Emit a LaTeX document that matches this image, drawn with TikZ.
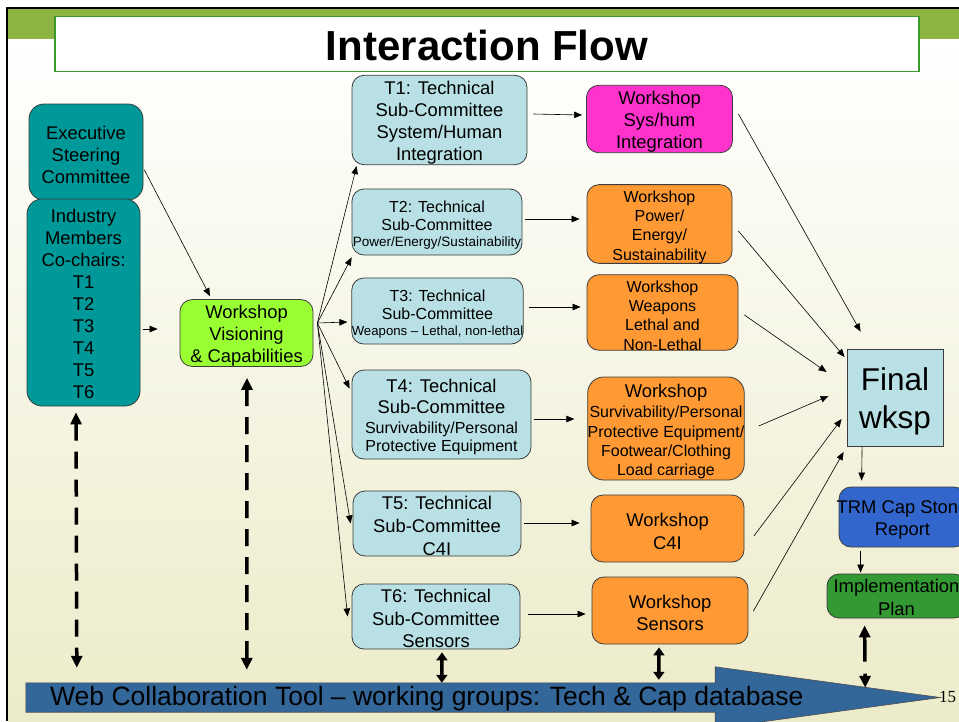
\documentclass[tikz,border=0pt]{standalone}
\usepackage{fontspec}
\setmainfont{Liberation Sans}
\newfontfamily\numfont{Liberation Serif}
\usetikzlibrary{arrows.meta,calc}
\definecolor{teal1}{HTML}{009999}
\definecolor{lblue}{HTML}{B9E0E4}
\definecolor{magw}{HTML}{FF33CC}
\definecolor{orw}{HTML}{FF9933}
\definecolor{limew}{HTML}{99FF33}
\definecolor{trmblue}{HTML}{3366CC}
\definecolor{implgreen}{HTML}{339933}
\definecolor{webblue}{HTML}{336699}
\definecolor{bandlight}{HTML}{8DB443}
\definecolor{banddark}{HTML}{2F6B10}
\definecolor{creammid}{HTML}{F6F5E2}
\definecolor{cream}{HTML}{ECEBC9}
\definecolor{titlegreen}{HTML}{3A9A2A}
\definecolor{edge}{HTML}{3C3C3C}
\newcommand{\fsz}[2]{\fontsize{#1}{#2}\selectfont}
\newcommand{\tp}[1]{\rule{0pt}{#1}}
\tikzset{
  nbox/.style={draw=edge, line width=0.8pt, rounded corners=12pt, align=center, inner sep=0pt, font=\fsz{18.4}{22}},
  thinarrow/.style={-{Triangle[length=8pt,width=6.5pt]}, line width=0.6pt, black},
  thickdash/.style={{Triangle[length=12pt,width=11pt]}-{Triangle[length=12pt,width=11pt]}, line width=3.5pt, dash pattern=on 17pt off 11pt},
  thicksolid/.style={{Triangle[length=8pt,width=11pt]}-{Triangle[length=8pt,width=11pt]}, line width=3.5pt}
}
\begin{document}
\begin{tikzpicture}[x=1pt,y=-1pt]
\clip (0,0) rectangle (959,721);
\useasboundingbox (0,0) rectangle (959,721);
% background
\fill[white] (0,0) rectangle (959,721);
\shade[top color=white, middle color=creammid, bottom color=cream] (8,38) rectangle (959,721);
\shade[left color=bandlight, middle color=banddark, right color=bandlight] (8,9) rectangle (959,38);
\draw[line width=2.5pt] (7,721) -- (7,8) -- (959,8);
% title
\node[draw=titlegreen, line width=1.3pt, fill=white, minimum width=864pt, minimum height=55pt, inner sep=0pt, font=\bfseries\fsz{42}{48}] (title) at (487,44) {\tp{33pt}Interaction Flow};

% left column
\node[nbox, fill=teal1, rounded corners=15pt, minimum width=114pt, minimum height=96pt] (exec) at (86,152) {\tp{18.5pt}Executive\\Steering\\Committee};
\node[nbox, fill=teal1, rounded corners=15pt, minimum width=113pt, minimum height=207pt] (ind) at (83.5,302.5) {\tp{17pt}Industry\\Members\\Co-chairs:\\T1\\T2\\T3\\T4\\T5\\T6};
\node[nbox, fill=limew, minimum width=133pt, minimum height=66pt] (vis) at (246.5,333) {\tp{19pt}Workshop\\Visioning\\\& Capabilities};

% technical sub-committees
\node[nbox, fill=lblue, minimum width=175pt, minimum height=88pt] (t1) at (439.5,120) {\tp{19.5pt}T1: Technical\\Sub-Committee\\System/Human\\Integration};
\node[nbox, fill=lblue, font=\fsz{16}{18}, minimum width=170pt, minimum height=66pt] (t2) at (437,222) {\tp{17.5pt}T2: Technical\\Sub-Committee\\[-2pt]{\fsz{13.5}{16}Power/Energy/Sustainability}};
\node[nbox, fill=lblue, font=\fsz{16}{18}, minimum width=171pt, minimum height=66pt] (t3) at (437.5,311) {\tp{17.5pt}T3: Technical\\Sub-Committee\\[-2pt]{\fsz{13.2}{16}Weapons – Lethal, non-lethal}};
\node[nbox, fill=lblue, font=\fsz{18.4}{21.5}, minimum width=179pt, minimum height=89pt] (t4) at (441.5,414.5) {\tp{18.5pt}T4: Technical\\Sub-Committee\\[-2pt]{\fsz{16}{19}Survivability/Personal}\\[-3pt]{\fsz{16}{19}Protective Equipment}};
\node[nbox, fill=lblue, font=\fsz{18.4}{23}, minimum width=168pt, minimum height=65pt] (t5) at (437,523.5) {\tp{17.5pt}T5: Technical\\Sub-Committee\\C4I};
\node[nbox, fill=lblue, font=\fsz{18.4}{22.5}, minimum width=168pt, minimum height=65pt] (t6) at (436,616.5) {\tp{17.5pt}T6: Technical\\Sub-Committee\\Sensors};

% workshops
\node[nbox, fill=magw, minimum width=146pt, minimum height=62pt] (w1) at (659.5,119) {\tp{19.5pt}Workshop\\Sys/hum\\Integration};
\node[nbox, fill=orw, font=\fsz{16}{19.3}, minimum width=145pt, minimum height=76pt] (w2) at (659.5,224) {\tp{17.5pt}Workshop\\Power/\\Energy/\\Sustainability};
\node[nbox, fill=orw, font=\fsz{16}{19.3}, minimum width=151pt, minimum height=67pt] (w3) at (662.5,312.5) {\tp{17.5pt}Workshop\\Weapons\\Lethal and\\Non-Lethal};
\node[nbox, fill=orw, rounded corners=16pt, font=\fsz{16}{19.3}, minimum width=156pt, minimum height=103pt] (w4) at (666,428.5) {{\fsz{18.4}{22}\tp{20pt}Workshop}\\[0.7pt]Survivability/Personal\\Protective Equipment/\\Footwear/Clothing\\Load carriage};
\node[nbox, fill=orw, font=\fsz{18.4}{23}, minimum width=153pt, minimum height=67pt] (w5) at (667.5,528.5) {\tp{18.5pt}Workshop\\C4I};
\node[nbox, fill=orw, font=\fsz{18.4}{21.5}, minimum width=156pt, minimum height=67pt] (w6) at (670,610.5) {\tp{18.5pt}Workshop\\Sensors};

% right column
\node[nbox, fill=lblue, rounded corners=0pt, font=\fsz{31.5}{38}, minimum width=96pt, minimum height=97pt] (fin) at (895,397.5) {\tp{30pt}Final\\wksp};
\node[nbox, fill=trmblue, minimum width=127pt, minimum height=60pt] (trm) at (902.5,517) {\tp{18.5pt}\makebox[0pt]{TRM Cap Stone}\\Report};
\node[nbox, fill=implgreen, font=\fsz{18.4}{23}, minimum width=139pt, minimum height=44pt] (impl) at (896.5,596) {\tp{16pt}Implementation\\Plan};

% web collaboration arrow
\node[anchor=base west, inner sep=0pt, font=\numfont\fsz{17}{20}] (pnum) at (939,702) {15};
\node[minimum width=689pt, minimum height=29pt, inner sep=0pt] (web) at (370.5,697.5) {};
\draw[fill=webblue, draw=black!70, line width=0.6pt] (web.north west) -- (web.north east) -- ++(0,-16) -- ($(web.east)+(225,0)$) -- ($(web.south east)+(0,16)$) -- (web.south east) -- (web.south west) -- cycle;
\node[anchor=base west, inner sep=0pt, font=\fsz{26.5}{30}] (webtxt) at (50,705) {Web Collaboration Tool – working groups: Tech \& Cap database};

% thin arrows
\draw[thinarrow] ($(exec.east)+(1,18)$) -- ($(vis.north)+(-36.5,-3)$);
\draw[thinarrow] ($(ind.east)+(3,26.5)$) -- ($(vis.west)+(-22,-4)$);
\coordinate (vo) at ($(vis.east)+(4,-10)$);
\draw[thinarrow] (vo) -- ($(t1.south west)+(5,1)$);
\draw[thinarrow] (vo) -- ($(t2.south west)+(0,2)$);
\draw[thinarrow] (vo) -- ($(t3.west)+(-4,11)$);
\draw[thinarrow] (vo) -- ($(t4.west)+(-2,-26)$);
\draw[thinarrow] (vo) -- ($(t5.west)+(-2,0)$);
\draw[thinarrow] (vo) -- ($(t6.west)+(-4,0)$);

\draw[thinarrow] ($(t1.east)+(6,-6)$) -- ($(w1.west)+(-4,-4)$);
\draw[thinarrow] ($(t2.east)+(3,-3)$) -- ($(w2.west)+(-7,-5)$);
\draw[thinarrow] ($(t3.east)+(5,-4)$) -- ($(w3.west)+(-6,-5.5)$);
\draw[thinarrow] ($(t4.east)+(3,4.5)$) -- ($(w4.west)+(-13,-9.5)$);
\draw[thinarrow] ($(t5.east)+(3,-0.5)$) -- ($(w5.west)+(-11,-5.5)$);
\draw[thinarrow] ($(t6.east)+(8,-2.5)$) -- ($(w6.west)+(-6,3.5)$);

\draw[thinarrow] ($(w1.east)+(5.5,-5)$) -- ($(fin.north west)+(14,-17)$);
\draw[thinarrow] ($(w2.east)+(6,7)$) -- ($(fin.west)+(-2,-40.5)$);
\draw[thinarrow] ($(w3.east)+(6,2.5)$) -- ($(fin.west)+(-20,-25.5)$);
\draw[thinarrow] ($(w4.east)+(14,-2.5)$) -- ($(fin.west)+(-18,-1.5)$);
\draw[thinarrow] ($(w5.east)+(9.5,7.5)$) -- ($(fin.west)+(-5,21.5)$);
\draw[thinarrow] ($(w6.east)+(5,0.5)$) -- ($(fin.west)+(-3,54.5)$);

\draw[thinarrow] ($(fin.south west)+(15.5,0)$) -- ($(trm.north west)+(23,-6)$);
\draw[thinarrow] ($(trm.south west)+(22,4)$) -- ($(impl.north west)+(34,-1)$);

% thick double arrows
\draw[thickdash] ($(ind.south)+(-7.5,6)$) -- ($(web.north west)+(51,-15)$);
\draw[thickdash] ($(vis.south)+(0.5,11)$) -- ($(web.north west)+(221,-13)$);
\draw[thicksolid] ($(t6.south)+(6,3)$) -- ($(web.north west)+(416,0)$);
\draw[thicksolid] ($(w6.south)+(-11,3)$) -- ($(web.north west)+(633,-3)$);
\draw[thickdash, dash pattern=on 25pt off 12pt] ($(impl.south west)+(38,7)$) -- ($(web.north east)+(150,5)$);
\end{tikzpicture}
\end{document}
